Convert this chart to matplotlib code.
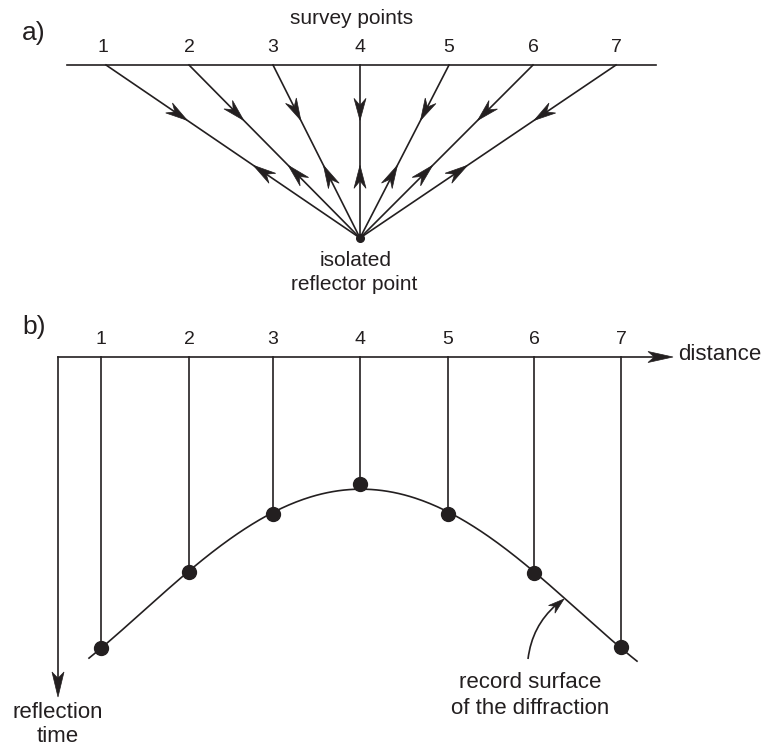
import numpy as np
import matplotlib.pyplot as plt
from matplotlib.patches import Polygon, PathPatch
from matplotlib.path import Path

plt.rcParams['font.family'] = ['Liberation Sans', 'DejaVu Sans']

# ---- panel a) survey geometry (page units, y down) ----
survey_labels = ['1', '2', '3', '4', '5', '6', '7']
survey_x_a = [106, 189, 273, 360, 449, 533, 616]
surface_y_a = 65
surface_span_a = (67, 656)
reflector_xy = (360, 238)
down_frac = 0.32   # position of the downgoing arrow tip along each ray
up_frac = 0.58     # position of the upgoing arrow tip (measured from surface)

# ---- panel b) record section ----
survey_x_b = [101, 189, 273, 360, 448, 534, 621]
axis_y_b = 357
axis_x_b = 58
dot_t = [648, 572, 514, 484, 514, 573, 647]
curve_x = [89, 101, 145, 189, 231, 273, 317, 360, 404, 448, 491, 534, 578, 621, 637]
curve_t = [659, 648, 607, 572, 540, 514, 495, 484, 495, 514, 540, 573, 607, 647, 663]

INK = '#231f20'
LW = 1.2


def head(ax, tip, direction, length=17, width=11, notch=0.7):
    u = np.asarray(direction, float)
    u = u / np.hypot(*u)
    p = np.array([-u[1], u[0]])
    t = np.asarray(tip, float)
    pts = [t,
           t - length * u + width / 2 * p,
           t - notch * length * u,
           t - length * u - width / 2 * p]
    ax.add_patch(Polygon(pts, closed=True, facecolor=INK, edgecolor=INK,
                         linewidth=0.5, zorder=4))


fig = plt.figure(figsize=(7.66, 7.47), dpi=100)
ax = fig.add_axes([0, 0, 1, 1])
ax.set_xlim(0, 766)
ax.set_ylim(747, 0)
ax.axis('off')

# ---------------- a) ----------------
ax.text(22, 33, 'a)', fontsize=19, ha='left', va='center', color=INK)
ax.text(352, 18, 'survey points', fontsize=15, ha='center', va='center', color=INK)
ax.plot(surface_span_a, [surface_y_a, surface_y_a], color=INK, lw=LW)

rx, ry = reflector_xy
for lab, sx in zip(survey_labels, survey_x_a):
    ax.text(sx - 3 if lab == '1' else sx, 48, lab, fontsize=14, ha='center',
            va='center', color=INK)
    ax.plot([sx, rx], [surface_y_a, ry], color=INK, lw=LW)
    d = np.array([rx - sx, ry - surface_y_a], float)
    s = np.array([sx, surface_y_a], float)
    head(ax, s + down_frac * d, d, length=22, width=12, notch=0.68)
    head(ax, s + up_frac * d, -d, length=23, width=12, notch=0.68)

ax.plot([rx], [ry], 'o', color=INK, markersize=5.5, zorder=5)
ax.text(356, 260, 'isolated', fontsize=15, ha='center', va='center', color=INK)
ax.text(354, 284, 'reflector point', fontsize=15, ha='center', va='center', color=INK)

# ---------------- b) ----------------
ax.text(22, 327, 'b)', fontsize=19, ha='left', va='center', color=INK)

x_tip = 673
y_tip = 697
ax.plot([axis_x_b, x_tip - 10], [axis_y_b, axis_y_b], color=INK, lw=LW)
head(ax, (x_tip, axis_y_b), (1, 0), length=25, width=11, notch=0.75)
ax.plot([axis_x_b, axis_x_b], [axis_y_b, y_tip - 10], color=INK, lw=LW)
head(ax, (axis_x_b, y_tip), (0, 1), length=25, width=12, notch=0.75)

ax.text(678, axis_y_b - 2, 'distance', fontsize=16, ha='left', va='center', color=INK)
ax.text(axis_x_b, 712, 'reflection', fontsize=16, ha='center', va='center', color=INK)
ax.text(axis_x_b, 737, 'time', fontsize=16, ha='center', va='center', color=INK)

for lab, bx, t in zip(survey_labels, survey_x_b, dot_t):
    ax.text(bx, 340, lab, fontsize=14, ha='center', va='center', color=INK)
    ax.plot([bx, bx], [axis_y_b, t], color=INK, lw=LW)

# smooth record surface through the read points
coef = np.polyfit(curve_x, curve_t, 4)
xs = np.linspace(curve_x[0], curve_x[-1], 300)
ax.plot(xs, np.polyval(coef, xs), color=INK, lw=LW)
ax.plot(survey_x_b, dot_t, 'o', color=INK, markersize=10, zorder=5)

# label with curved pointer
ax.text(530, 683, 'record surface', fontsize=16, ha='center', va='center', color=INK)
ax.text(530, 708, 'of the diffraction', fontsize=16, ha='center', va='center', color=INK)
p0, p1, p2 = (528, 659), (532, 626), (564, 599)
ax.add_patch(PathPatch(Path([p0, p1, (556, 605)],
                            [Path.MOVETO, Path.CURVE3, Path.CURVE3]),
                       facecolor='none', edgecolor=INK, lw=LW))
head(ax, p2, (p2[0] - p1[0], p2[1] - p1[1]), length=16, width=10, notch=0.7)

fig.savefig('out.png', dpi=100)
